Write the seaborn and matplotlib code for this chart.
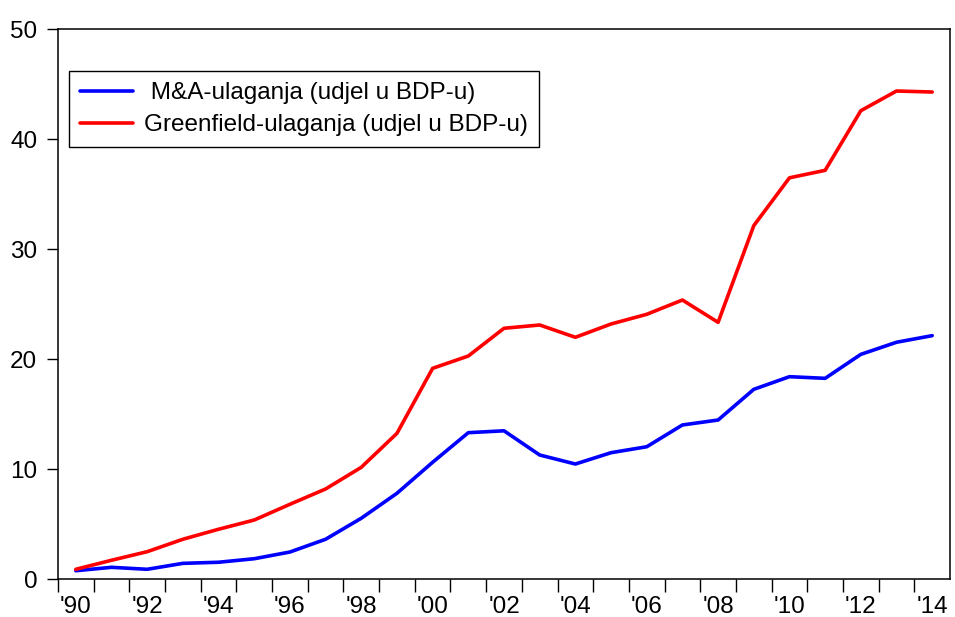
import numpy as np
import pandas as pd
import matplotlib
matplotlib.use('Agg')
import matplotlib.pyplot as plt
import seaborn as sns

# ---- data ----
years = list(range(1990, 2015))

ma_share = [0.78, 1.09, 0.91, 1.45, 1.55, 1.87, 2.48, 3.64, 5.55, 7.82,
            10.64, 13.33, 13.50, 11.30, 10.48, 11.51, 12.05, 14.03, 14.48, 17.27,
            18.42, 18.27, 20.45, 21.55, 22.15]

greenfield_share = [0.91, 1.73, 2.51, 3.64, 4.55, 5.39, 6.82, 8.21, 10.18, 13.27,
                    19.18, 20.30, 22.82, 23.12, 22.00, 23.21, 24.09, 25.39, 23.36, 32.15,
                    36.50, 37.18, 42.60, 44.39, 44.30]

ma_label = ' M&A-ulaganja (udjel u BDP-u)'
gf_label = 'Greenfield-ulaganja (udjel u BDP-u)'

tick_years = list(range(1990, 2015, 2))
tick_labels = ["'" + str(y)[2:] for y in tick_years]

# ---- long table for seaborn ----
df = pd.DataFrame({
    'year': years * 2,
    'value': ma_share + greenfield_share,
    'series': [ma_label] * len(years) + [gf_label] * len(years),
})
# annual values are drawn in the middle of each year interval
df['x'] = df['year'] + 0.5

sns.set_theme(style='ticks')
plt.rcParams['font.family'] = ['Liberation Sans', 'DejaVu Sans']
plt.rcParams['text.color'] = 'black'
plt.rcParams['xtick.color'] = 'black'
plt.rcParams['ytick.color'] = 'black'
plt.rcParams['axes.labelcolor'] = 'black'

fig = plt.figure(figsize=(9.55, 6.17), dpi=100)
ax = fig.add_axes([0.0607, 0.0611, 0.9341, 0.8914])

sns.lineplot(data=df, x='x', y='value', hue='series',
             palette={ma_label: '#0000FF', gf_label: '#FF0000'},
             linewidth=2.6, ax=ax)

ax.set_xlim(1990, 2015)
ax.set_ylim(0, 50)
ax.set_yticks([0, 10, 20, 30, 40, 50])
ax.set_xlabel('')
ax.set_ylabel('')

# year boundaries as tick marks, labels in the middle of the year
ax.set_xticks(np.arange(1990, 2015), labels=[])
ax.set_xticks(np.array(tick_years) + 0.5, minor=True)
ax.set_xticklabels(tick_labels, minor=True)
ax.tick_params(axis='x', which='major', direction='out', length=9, width=1, color='black')
ax.tick_params(axis='x', which='minor', length=0, pad=12, labelsize=17.5, labelcolor='black')
ax.tick_params(axis='y', direction='out', length=8, width=1, color='black',
               labelsize=17.5, pad=7, labelcolor='black')

for s in ax.spines.values():
    s.set_visible(True)
    s.set_color('black')
    s.set_linewidth(1.1)

leg = ax.legend(loc='upper left', bbox_to_anchor=(0.012, 0.924), borderaxespad=0,
                fontsize=17.5, handlelength=2.2, handletextpad=0.45, labelspacing=0.42,
                borderpad=0.45, fancybox=False, framealpha=1, edgecolor='black')
leg.get_frame().set_linewidth(1.0)
for line in leg.get_lines():
    line.set_linewidth(2.6)
for t in leg.get_texts():
    t.set_color('black')

fig.savefig('out.png', dpi=100)
